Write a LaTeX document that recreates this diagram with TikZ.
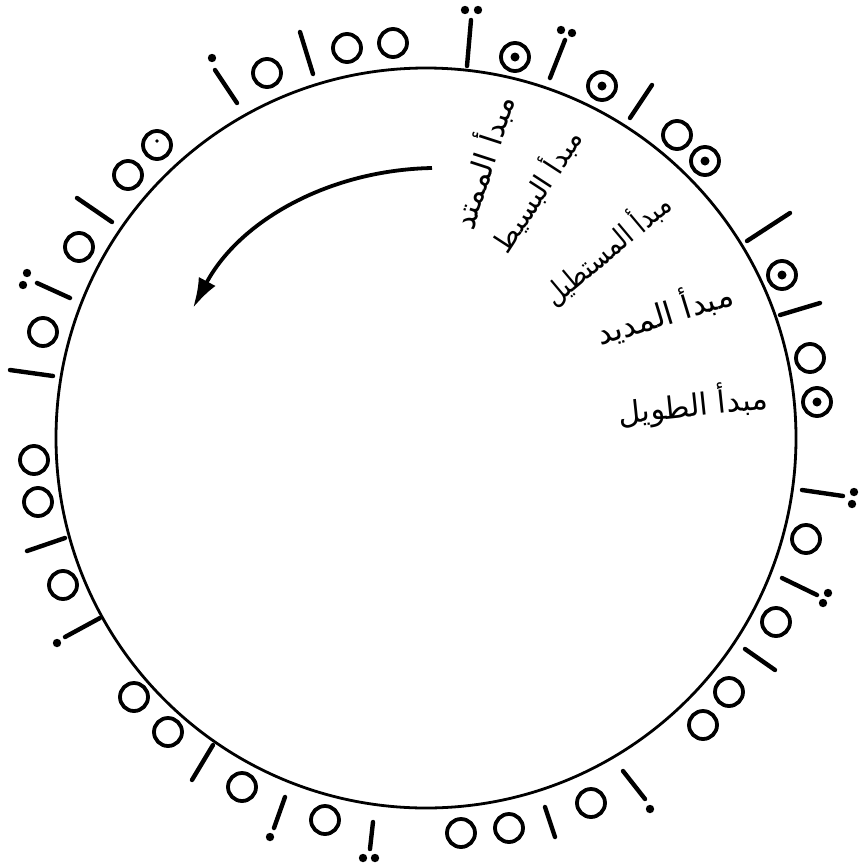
\documentclass[tikz,border=0pt]{standalone}
\usepackage{fontspec}
\usepackage{graphicx}
\newfontfamily\arabicfont[Script=Arabic]{DejaVu Sans}
\TeXXeTstate=1
\usetikzlibrary{arrows.meta}
\tikzset{
  ring/.style={draw=black, line width=3.8pt},
  stroke/.style={draw=black, line width=4.4pt, line cap=round},
  rim/.style={draw=black, line width=2.8pt},
  lbl/.style={inner sep=0pt, font=\arabicfont},
  bend arrow/.style={draw=black, line width=3.8pt, -{Latex[length=30pt,width=19pt]}}
}
\newcommand\RingO[1]{\draw[ring] (#1) circle[radius=14];}
\newcommand\RingD[1]{\draw[ring] (#1) circle[radius=14]; \fill (#1) circle[radius=4.5];}
\newcommand\Strk[2]{\draw[stroke] (#1) -- (#2);}
\newcommand\Dt[1]{\fill (#1) circle[radius=4.2];}
\begin{document}
\begin{tikzpicture}[x=1pt,y=-1pt]
\useasboundingbox (0,0) rectangle (859,865);
% main circle
\coordinate (ctr) at (426,438);
\draw[rim] (ctr) circle[radius=370];
% marks, clockwise from top
\Strk{471,20}{467,66} \Dt{465,10} \Dt{478,10}
\RingD{515,57}
\Strk{565,40}{550,78} \Dt{561,30} \Dt{572,33}
\RingD{602,86}
\Strk{652,85}{630,118}
\RingO{677,135}
\RingD{705,161}
\Strk{747,241}{790,213}
\RingD{782,275}
\Strk{780,315}{820,303}
\RingO{810,358}
\RingD{817,402}
\Strk{802,490}{843,496} \Dt{854,492} \Dt{852,504}
\RingO{806,539}
\Strk{782,578}{817,595} \Dt{828,593} \Dt{823,603}
\RingO{776,622}
\Strk{745,649}{775,670}
\RingO{729,692}
\RingO{703,725}
\Strk{623,771}{645,799} \Dt{650,809}
\RingO{591,803}
\Strk{545,807}{555,837}
\RingO{509,828}
\RingO{461,833}
\Strk{373,822}{370,849} \Dt{363,858} \Dt{375,858}
\RingO{325,820}
\Strk{285,797}{274,828} \Dt{270,837}
\RingO{242,787}
\Strk{213,745}{192,780}
\RingO{168,732}
\RingO{134,697}
\Strk{65,637}{100,618} \Dt{57,643}
\RingO{63,585}
\Strk{27,551}{65,538}
\RingO{38,502}
\RingO{34,460}
\Strk{10,370}{53,376}
\RingO{43,332}
\Strk{37,283}{70,298} \Dt{27,273} \Dt{23,285}
\RingO{79,247}
\Strk{77,198}{112,222}
\RingO{128,175}
\draw[ring] (157,145) circle[radius=14]; \fill (157,141) circle[radius=1.8];
\Strk{215,70}{237,103} \Dt{212,58}
\RingO{267,73}
\Strk{300,32}{313,74}
\RingO{347,48}
\RingO{393,43}
% labels
\node[lbl, rotate=6]  (tawil)  at (693,405) {\resizebox{150pt}{!}{\beginR مبدأ الطويل\endR}};
\node[lbl, rotate=17] (madid)  at (664,312) {\resizebox{141pt}{!}{\beginR مبدأ المديد\endR}};
\node[lbl, rotate=40] (mustatil) at (606,248) {\resizebox*{156pt}{34pt}{\beginR مبدأ المستطيل\endR}};
\node[lbl, rotate=57] (basit)  at (536,190) {\resizebox{140pt}{!}{\beginR مبدأ البسيط\endR}};
\node[lbl, rotate=72] (mumtad) at (482,162) {\resizebox{138pt}{!}{\beginR مبدأ الممتد\endR}};
% arrow
\coordinate (arrS) at (432,168);
\coordinate (arrE) at (193,308);
\draw[bend arrow] (arrS) .. controls (330,170) and (240,220) .. (arrE);
\end{tikzpicture}
\end{document}
